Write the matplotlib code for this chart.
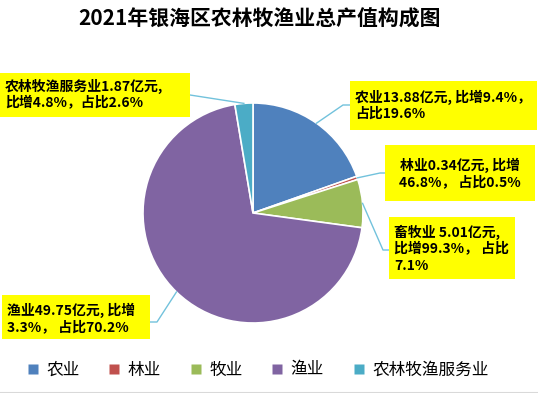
import numpy as np
import matplotlib
matplotlib.use('Agg')
from matplotlib import pyplot as plt
from matplotlib.patches import Rectangle
from matplotlib.lines import Line2D

plt.rcParams['font.family'] = ['Noto Sans CJK SC', 'DejaVu Sans']

# data
sectors = ['农业', '林业', '牧业', '渔业', '农林牧渔服务业']
values = [13.88, 0.34, 5.01, 49.75, 1.87]  # 亿元
colors = ['#4f81bd', '#c0504d', '#9bbb59', '#8064a2', '#4bacc6']
label_texts = [
    '农业13.88亿元, 比增9.4%，\n占比19.6%',
    '林业0.34亿元, 比增\n46.8%， 占比0.5%',
    '畜牧业 5.01亿元,\n比增99.3%， 占比\n7.1%',
    '渔业49.75亿元, 比增\n3.3%， 占比70.2%',
    '农林牧渔服务业1.87亿元,\n比增4.8%，占比2.6%',
]

W, H = 538, 393
fig = plt.figure(figsize=(W / 100, H / 100), dpi=100)
ax = fig.add_axes([0, 0, 1, 1])


def py(y):
    # pixel row (from top) -> data y
    return H - y


cx, cy, r = 253, py(213), 110
wedges, _ = ax.pie(values, colors=colors, startangle=90, counterclock=False,
                   center=(cx, cy), radius=r,
                   wedgeprops={'linewidth': 1.2, 'edgecolor': 'white'})
ax.set_xlim(0, W)
ax.set_ylim(0, H)
ax.set_aspect('equal')
ax.axis('off')

# label boxes: (left, top, width, height), text anchor, elbow, box join point (pixels)
boxes = [
    dict(rect=(350, 81, 187, 49), txt=(355, 105), ha='left', elbow=(343, 105), join=(350, 105)),
    dict(rect=(385, 145, 150, 56), txt=(460, 173), ha='center', elbow=(380, 173), join=(385, 173)),
    dict(rect=(389, 217, 126, 62), txt=(394, 249), ha='left', elbow=(383, 250), join=(389, 250)),
    dict(rect=(2, 295, 148, 44), txt=(7, 318), ha='left', elbow=(157, 322), join=(150, 322)),
    dict(rect=(0, 73, 190, 44), txt=(5, 95), ha='left', elbow=(190, 95), join=(190, 95)),
]

line_col = '#72c2dc'
for w, b, txt in zip(wedges, boxes, label_texts):
    mid = np.deg2rad((w.theta1 + w.theta2) / 2)
    ex = cx + r * np.cos(mid)
    ey = cy + r * np.sin(mid)
    ax.plot([ex, b['elbow'][0], b['join'][0]], [ey, py(b['elbow'][1]), py(b['join'][1])],
            color=line_col, lw=1, zorder=1)
    x0, y0, bw, bh = b['rect']
    ax.add_patch(Rectangle((x0, py(y0 + bh)), bw, bh, facecolor='#ffff00',
                           edgecolor='none', zorder=2))
    ax.text(b['txt'][0], py(b['txt'][1]), txt, ha=b['ha'], va='center', fontsize=10,
            fontweight='bold', linespacing=1.2, zorder=3)

ax.text(260, py(19), '2021年银海区农林牧渔业总产值构成图', ha='center', va='center',
        fontsize=15, fontweight='bold')

handles = [Line2D([], [], marker='s', linestyle='none', markersize=6.5,
                  markerfacecolor=c, markeredgecolor='none') for c in colors]
fig.legend(handles, sectors, loc='center', bbox_to_anchor=(0.48, 1 - 370 / H), ncol=5,
           frameon=False, fontsize=12, handlelength=0.6,
           handletextpad=0.5, columnspacing=1.8)

# thin grey line along the bottom edge of the chart area
ax.plot([0, W], [0.5, 0.5], color='#d9d9d9', lw=1.5)

fig.savefig('out.png', dpi=100)
